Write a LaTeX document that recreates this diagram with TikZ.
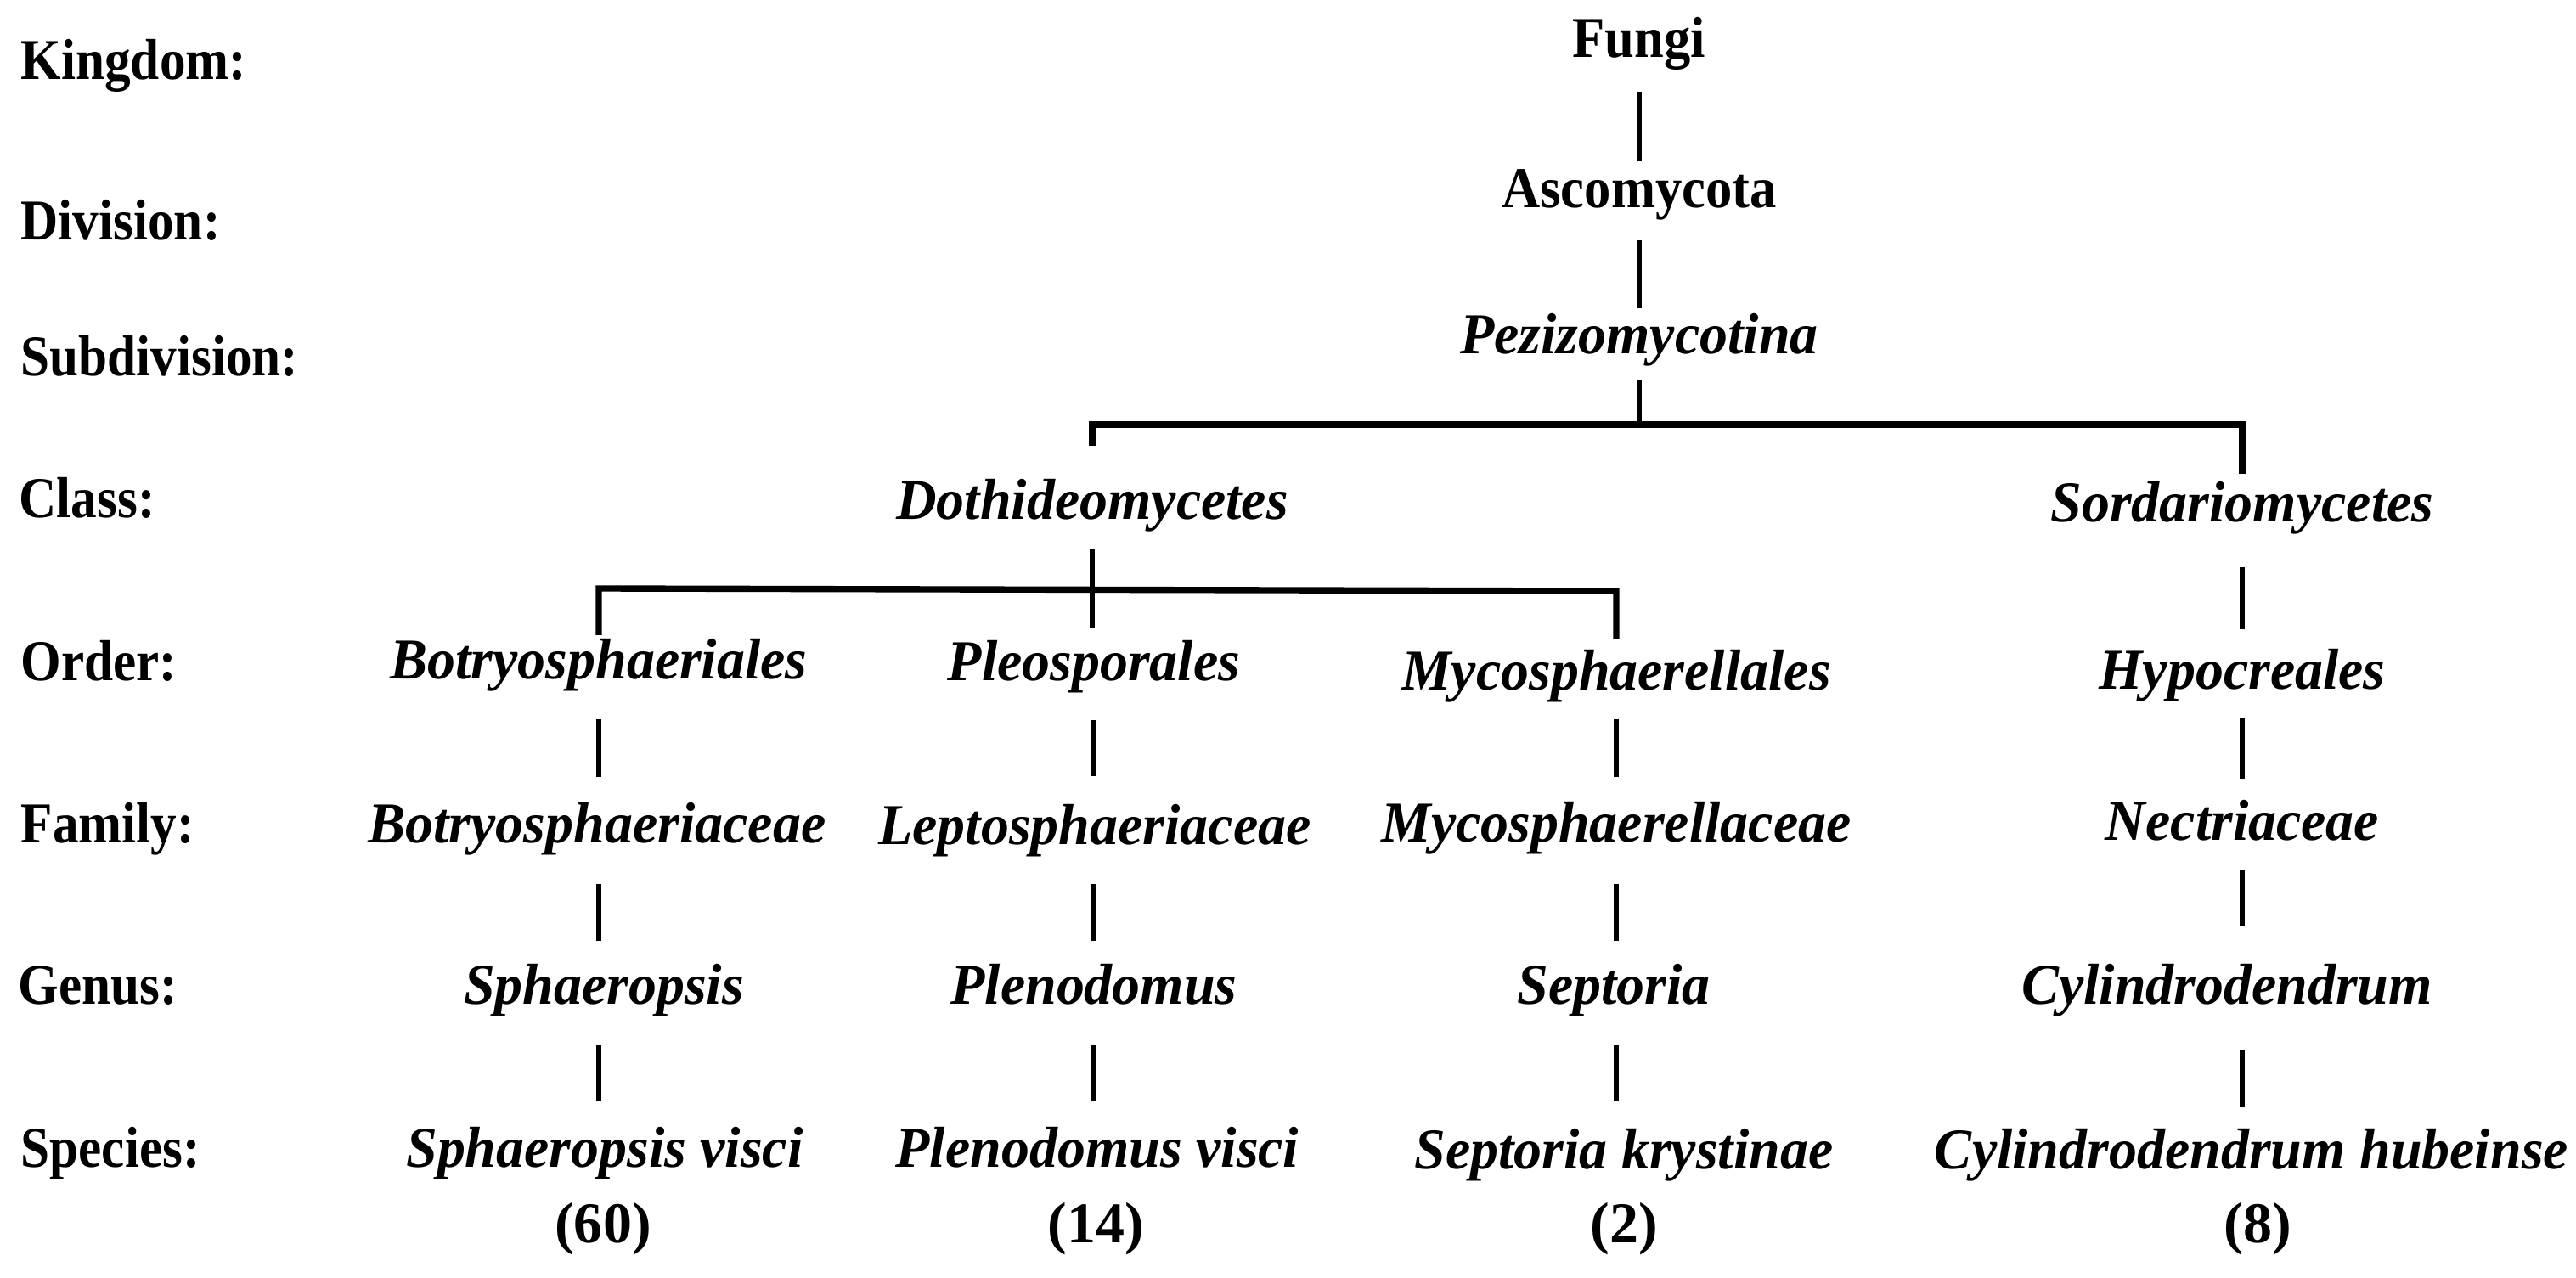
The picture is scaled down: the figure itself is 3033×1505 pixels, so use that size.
\documentclass[tikz,border=0pt]{standalone}
\usepackage{fontspec}
\usetikzlibrary{calc}
\newfontfamily\labfont[FakeStretch=0.9]{Liberation Serif}
\newfontfamily\trbfont[FakeStretch=0.92]{Liberation Serif}
\newfontfamily\trifont[FakeStretch=0.97]{Liberation Serif}
\newfontfamily\cntfont{Liberation Serif}
\tikzset{
  lab/.style={font=\labfont\bfseries\fontsize{19.35}{23}\selectfont, inner sep=0pt, anchor=base west},
  tb/.style={font=\trbfont\bfseries\fontsize{19.35}{23}\selectfont, inner sep=0pt, anchor=base},
  ti/.style={font=\trifont\bfseries\itshape\fontsize{19.35}{23}\selectfont, inner sep=0pt, anchor=base},
  cnt/.style={font=\cntfont\bfseries\fontsize{19.35}{23}\selectfont, inner sep=0pt, anchor=base},
  vline/.style={line width=1.85pt},
  barline/.style={line width=2.1pt, line join=miter}
}
\begin{document}
\begin{tikzpicture}[x=0.2845pt, y=-0.2845pt]
\useasboundingbox (0,0) rectangle (3033,1505);
% rank labels
\node[lab] (lkingdom) at (24,94) {Kingdom:};
\node[lab] (ldivision) at (24,283) {Division:};
\node[lab] (lsubdiv) at (24,443) {Subdivision:};
\node[lab] (lclass) at (22,610) {Class:};
\node[lab] (lorder) at (24,802) {Order:};
\node[lab] (lfamily) at (24,993) {Family:};
\node[lab] (lgenus) at (21,1183) {Genus:};
\node[lab] (lspecies) at (24,1374) {Species:};
% top
\node[tb] (fungi) at (1930,68) {Fungi};
\node[tb] (asco) at (1930,245) {Ascomycota};
\node[ti] (pez) at (1930,417) {Pezizomycotina};
% class
\node[ti] (doth) at (1286,612) {Dothideomycetes};
\node[ti] (sord) at (2640,615) {Sordariomycetes};
% order
\node[ti] (ord1) at (705,800) {Botryosphaeriales};
\node[ti] (ord2) at (1288,802) {Pleosporales};
\node[ti] (ord3) at (1903,813) {Mycosphaerellales};
\node[ti] (hyp) at (2640,812) {Hypocreales};
% family
\node[ti] (fam1) at (703,993) {Botryosphaeriaceae};
\node[ti] (fam2) at (1289,995) {Leptosphaeriaceae};
\node[ti] (fam3) at (1903,992) {Mycosphaerellaceae};
\node[ti] (nect) at (2640,990) {Nectriaceae};
% genus
\node[ti] (gen1) at (711,1183) {Sphaeropsis};
\node[ti] (gen2) at (1288,1183) {Plenodomus};
\node[ti] (gen3) at (1900,1183) {Septoria};
\node[ti] (cyl) at (2622,1183) {Cylindrodendrum};
% species
\node[ti] (sp1) at (712,1374) {Sphaeropsis visci};
\node[ti] (sp2) at (1292,1374) {Plenodomus visci};
\node[ti] (sp3) at (1912,1376) {Septoria krystinae};
\node[ti] (chub) at (2651,1376) {Cylindrodendrum hubeinse};
% counts
\node[cnt] (cnt1) at (710,1464) {(60)};
\node[cnt] (cnt2) at (1290,1464) {(14)};
\node[cnt] (cnt3) at (1912,1464) {(2)};
\node[cnt] (cnt4) at (2658,1464) {(8)};
% connectors: top
\draw[vline] ($(fungi.base)+(0,40)$) -- ($(fungi.base |- asco.base)+(0,-55)$);
\draw[vline] ($(asco.base)+(0,38)$) -- ($(asco.base |- pez.base)+(0,-54)$);
\draw[vline] ($(pez.base)+(0,31)$) -- ($(pez.base)+(0,83)$);
\draw[barline] ($(doth.base)+(0,-87)$) |- ($(pez.base)+(0,83)$) -| ($(sord.base)+(0,-57)$);
% Dothideomycetes branch
\draw[vline] ($(doth.base)+(0,34)$) -- ($(doth.base |- ord2.base)+(0,-62)$);
\draw[barline] ($(ord1.base)+(0,-52)$) -- ($(ord1.base)+(0,-107)$) -- ($(ord3.base)+(0,-117)$) -- ($(ord3.base)+(0,-61)$);
% Sordariomycetes branch
\draw[vline] ($(sord.base)+(0,53)$) -- ($(sord.base |- hyp.base)+(0,-71)$);
% column 1
\draw[vline] ($(ord1.base)+(0,47)$) -- ($(ord1.base |- fam1.base)+(0,-78)$);
\draw[vline] ($(ord1.base |- fam1.base)+(0,48)$) -- ($(ord1.base |- gen1.base)+(0,-75)$);
\draw[vline] ($(ord1.base |- gen1.base)+(0,48)$) -- ($(ord1.base |- sp1.base)+(0,-78)$);
% column 2
\draw[vline] ($(ord2.base)+(0,46)$) -- ($(ord2.base |- fam2.base)+(0,-81)$);
\draw[vline] ($(ord2.base |- fam2.base)+(0,46)$) -- ($(ord2.base |- gen2.base)+(0,-75)$);
\draw[vline] ($(ord2.base |- gen2.base)+(0,48)$) -- ($(ord2.base |- sp2.base)+(0,-78)$);
% column 3
\draw[vline] ($(ord3.base)+(0,34)$) -- ($(ord3.base |- fam3.base)+(0,-77)$);
\draw[vline] ($(ord3.base |- fam3.base)+(0,49)$) -- ($(ord3.base |- gen3.base)+(0,-75)$);
\draw[vline] ($(ord3.base |- gen3.base)+(0,48)$) -- ($(ord3.base |- sp3.base)+(0,-80)$);
% column 4
\draw[vline] ($(hyp.base)+(0,33)$) -- ($(hyp.base |- nect.base)+(0,-73)$);
\draw[vline] ($(hyp.base |- nect.base)+(0,34)$) -- ($(hyp.base |- cyl.base)+(0,-93)$);
\draw[vline] ($(hyp.base |- cyl.base)+(0,53)$) -- ($(hyp.base |- chub.base)+(0,-72)$);
\end{tikzpicture}
\end{document}
